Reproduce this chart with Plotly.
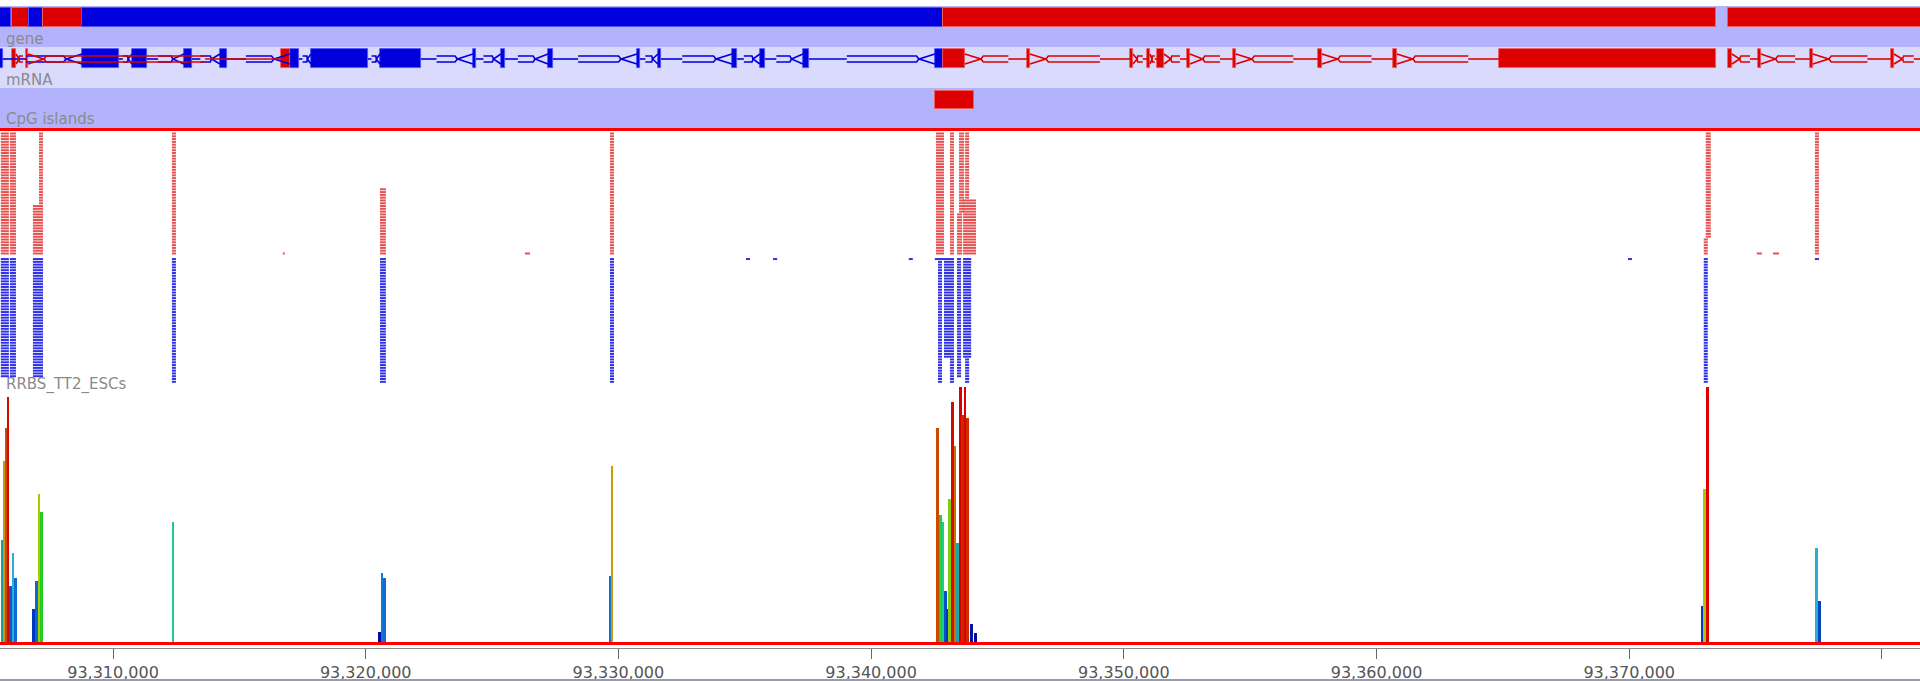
import plotly.graph_objects as go

# ---------------- data ----------------
X_RANGE = [93_305_528, 93_381_508]
TICKS = [93_310_000, 93_320_000, 93_330_000, 93_340_000,
         93_350_000, 93_360_000, 93_370_000, 93_380_000]

# gene track: contiguous gene blocks
gene_start = [93_305_400, 93_306_003, 93_306_676, 93_307_230, 93_308_773, 93_342_843, 93_373_905]
gene_end = [93_305_963, 93_306_676, 93_307_230, 93_308_773, 93_342_843, 93_373_430, 93_381_700]
gene_strand = ['-', '+', '-', '+', '-', '+', '+']

# mRNA track: transcripts as exon lists
tx_minus_exons = [
    (93_305_450, 93_305_635), (93_308_773, 93_310_237), (93_310_751, 93_311_345),
    (93_312_809, 93_313_125), (93_314_233, 93_314_510), (93_317_003, 93_317_359),
    (93_317_834, 93_320_090), (93_320_565, 93_322_187), (93_324_245, 93_324_363),
    (93_325_353, 93_325_511), (93_327_212, 93_327_410), (93_330_734, 93_330_853),
    (93_331_565, 93_331_684), (93_334_493, 93_334_691), (93_335_601, 93_335_799),
    (93_337_303, 93_337_540), (93_342_526, 93_342_843),
]
tx_plus_a_exons = [(93_306_003, 93_306_161), (93_306_557, 93_306_636), (93_316_647, 93_317_003)]
tx_plus_b_exons = [
    (93_342_843, 93_343_713), (93_346_166, 93_346_285), (93_350_242, 93_350_361),
    (93_350_915, 93_351_034), (93_351_310, 93_351_587), (93_352_498, 93_352_616),
    (93_354_318, 93_354_437), (93_357_681, 93_357_840), (93_360_649, 93_360_807),
    (93_364_843, 93_373_430),
]
tx_plus_c_exons = [(93_373_905, 93_374_063), (93_375_092, 93_375_211),
                   (93_377_150, 93_377_268), (93_380_355, 93_380_474), (93_381_600, 93_381_800)]

# CpG islands
cpg_island_start = [93_342_526]
cpg_island_end = [93_344_069]

# RRBS read stacks: (start, end, first_row, last_row)
fwd_read_stacks = [
    (93_305_560, 93_305_880, 0, 43), (93_305_920, 93_306_160, 0, 43),
    (93_307_070, 93_307_230, 0, 25), (93_306_830, 93_307_230, 26, 43),
    (93_312_330, 93_312_490, 0, 43), (93_320_565, 93_320_800, 20, 43),
    (93_316_720, 93_316_800, 43, 43), (93_326_300, 93_326_500, 43, 43),
    (93_329_665, 93_329_825, 0, 43),
    (93_342_565, 93_342_885, 0, 43), (93_343_120, 93_343_280, 0, 43),
    (93_343_480, 93_343_680, 0, 28), (93_343_720, 93_343_880, 0, 23),
    (93_343_640, 93_344_150, 24, 43), (93_343_400, 93_343_600, 29, 43),
    (93_373_030, 93_373_230, 0, 37), (93_372_950, 93_373_110, 38, 43),
    (93_375_050, 93_375_250, 43, 43), (93_375_690, 93_375_930, 43, 43),
    (93_377_350, 93_377_510, 0, 43),
]
rev_read_stacks = [
    (93_305_560, 93_305_880, 0, 42), (93_305_920, 93_306_160, 0, 42),
    (93_306_830, 93_307_230, 0, 42), (93_312_330, 93_312_490, 0, 44),
    (93_320_565, 93_320_800, 0, 44), (93_329_665, 93_329_825, 0, 44),
    (93_335_050, 93_335_210, 0, 0), (93_336_120, 93_336_280, 0, 0),
    (93_341_490, 93_341_650, 0, 0), (93_369_950, 93_370_110, 0, 0),
    (93_342_525, 93_343_280, 0, 0), (93_342_645, 93_342_805, 1, 44),
    (93_342_885, 93_343_280, 1, 35), (93_343_120, 93_343_280, 36, 44),
    (93_343_400, 93_343_560, 0, 42), (93_343_640, 93_343_960, 0, 35),
    (93_343_720, 93_343_880, 36, 44), (93_372_950, 93_373_110, 0, 44),
    (93_377_350, 93_377_510, 0, 0),
]

# RRBS methylation level per CpG site (%)
cpg_pos = [
    93_305_600, 93_305_682, 93_305_761, 93_305_840, 93_305_936, 93_306_035, 93_306_141,
    93_306_854, 93_306_964, 93_307_063, 93_307_170, 93_312_374,
    93_320_545, 93_320_644, 93_320_742, 93_329_666, 93_329_745,
    93_342_625, 93_342_744, 93_342_843, 93_342_942, 93_343_033, 93_343_100, 93_343_211,
    93_343_326, 93_343_429, 93_343_528, 93_343_627, 93_343_722, 93_343_817, 93_343_972,
    93_344_130, 93_372_886, 93_372_985, 93_373_092, 93_377_416, 93_377_523,
]
meth_pct = [
    40, 71, 84, 96, 22, 35, 25,
    13, 24, 58, 51, 47,
    4, 27, 25, 26, 69,
    84, 50, 47, 20, 13, 56, 94,
    77, 39, 100, 89, 100, 88, 7,
    3.5, 14, 60, 100, 37, 16,
]

# ---------------- styling ----------------
W, H = 1920, 681
BLUE, RED = '#0000dd', '#dd0000'
LAV, LAV_LIGHT = '#b3b3fb', '#dadafc'
LABEL = '#8a8a8a'
BP_PER_PX = (X_RANGE[1] - X_RANGE[0]) / W
MRNA_Y = 59


def pf(px):
    """pixel row (from top) -> paper fraction"""
    return 1 - px / H


meth_scale = [
    [0.00, '#00009a'], [0.06, '#0010b0'], [0.13, '#0038c0'], [0.22, '#0a5acc'],
    [0.30, '#1a8ad8'], [0.36, '#2ab8e0'], [0.40, '#1a9e96'], [0.47, '#22cc88'],
    [0.51, '#22cc22'], [0.58, '#a8cc00'], [0.65, '#c4b000'], [0.72, '#d09010'],
    [0.78, '#d06a00'], [0.85, '#cc4400'], [0.92, '#cc1100'], [1.00, '#dd0000'],
]

fig = go.Figure()

# gene blocks
fig.add_trace(go.Bar(
    orientation='h', yaxis='y2', base=gene_start,
    x=[e - s for s, e in zip(gene_start, gene_end)],
    y=[17.8] * len(gene_start), width=19,
    marker=dict(color=[BLUE if s == '-' else RED for s in gene_strand],
                line=dict(color=['#5050ff' if s == '-' else '#ee6060' for s in gene_strand], width=1)),
    hoverinfo='skip'))


def intron_paths(exons, strand):
    """Intron glyph: thin line, hollow shaft, then a wedge pointing with the strand."""
    xs, ys = [], []
    y0 = MRNA_Y
    tube, flare = 3.0, 5.0
    for (s0, e0), (s1, e1) in zip(exons[:-1], exons[1:]):
        a, b = e0, s1
        L = b - a
        w = min(0.3 * L, 16 * BP_PER_PX)
        if strand == '-':
            ap = b - w                     # wedge apex, wedge opens onto the right exon
            t0 = a + 0.3 * L               # shaft start
            xs += [a, t0, None]
            ys += [y0, y0, None]
            for sgn in (-1, 1):
                xs += [t0, ap - 0.15 * w, ap, b, None]
                ys += [y0 + sgn * tube, y0 + sgn * tube, y0, y0 + sgn * flare, None]
        else:
            ap = a + w                     # wedge apex, wedge opens onto the left exon
            t1 = b - 0.3 * L
            xs += [t1, b, None]
            ys += [y0, y0, None]
            for sgn in (-1, 1):
                xs += [a, ap, ap + 0.15 * w, t1, None]
                ys += [y0 + sgn * flare, y0, y0 + sgn * tube, y0 + sgn * tube, None]
    return xs, ys


for exons, strand in [(tx_minus_exons, '-'), (tx_plus_a_exons, '+'),
                      (tx_plus_b_exons, '+'), (tx_plus_c_exons, '+')]:
    col = BLUE if strand == '-' else RED
    ix, iy = intron_paths(exons, strand)
    fig.add_trace(go.Scatter(x=ix, y=iy, yaxis='y2', mode='lines',
                             line=dict(color=col, width=1.6), hoverinfo='skip'))
    fig.add_trace(go.Bar(
        orientation='h', yaxis='y2', base=[s for s, _ in exons],
        x=[e - s for s, e in exons], y=[58.8] * len(exons), width=19,
        marker=dict(color=col, line=dict(color='#5050ff' if strand == '-' else '#ee6060', width=0.8)),
        hoverinfo='skip'))

# CpG islands
fig.add_trace(go.Bar(
    orientation='h', yaxis='y2', base=cpg_island_start,
    x=[e - s for s, e in zip(cpg_island_start, cpg_island_end)],
    y=[100] * len(cpg_island_start), width=18,
    marker=dict(color=RED, line=dict(color='#ee6060', width=1)), hoverinfo='skip'))


def stack_segments(stacks, row_offset):
    xs, ys = [], []
    for s, e, r0, r1 in stacks:
        for r in range(r0, r1 + 1):
            xs += [s, e, None]
            ys += [r + row_offset, r + row_offset, None]
    return xs, ys


fx, fy = stack_segments(fwd_read_stacks, 0)
rx, ry = stack_segments(rev_read_stacks, 45)
fig.add_trace(go.Scatter(x=fx, y=fy, yaxis='y3', mode='lines',
                         line=dict(color='#e65050', width=2), hoverinfo='skip'))
fig.add_trace(go.Scatter(x=rx, y=ry, yaxis='y3', mode='lines',
                         line=dict(color='#3030e6', width=2), hoverinfo='skip'))

# methylation bars
fig.add_trace(go.Bar(
    x=cpg_pos, y=meth_pct, width=100,
    marker=dict(color=meth_pct, colorscale=meth_scale, cmin=0, cmax=100, line=dict(width=0)),
    hoverinfo='skip'))

shapes = [
    dict(type='rect', xref='paper', yref='paper', x0=0, x1=1, y0=pf(47), y1=pf(6),
         fillcolor=LAV, line_width=0, layer='below'),
    dict(type='rect', xref='paper', yref='paper', x0=0, x1=1, y0=pf(88), y1=pf(47),
         fillcolor=LAV_LIGHT, line_width=0, layer='below'),
    dict(type='rect', xref='paper', yref='paper', x0=0, x1=1, y0=pf(128), y1=pf(88),
         fillcolor=LAV, line_width=0, layer='below'),
    dict(type='line', xref='paper', yref='paper', x0=0, x1=1, y0=pf(129.5), y1=pf(129.5),
         line=dict(color='#ff0000', width=3)),
    dict(type='line', xref='paper', yref='paper', x0=0, x1=1, y0=pf(643.5), y1=pf(643.5),
         line=dict(color='#ff0000', width=3)),
    dict(type='line', xref='paper', yref='paper', x0=0, x1=1, y0=pf(680), y1=pf(680),
         line=dict(color='#9a9aaa', width=2)),
]

labels = [('gene', 39), ('mRNA', 80), ('CpG islands', 119), ('RRBS_TT2_ESCs', 385)]
annotations = [dict(text=t, x=0.002, y=pf(py), xref='paper', yref='paper',
                    xanchor='left', yanchor='middle', showarrow=False,
                    font=dict(family='DejaVu Sans', size=15, color=LABEL))
               for t, py in labels]

row_px = 2.79
fig.update_layout(
    width=W, height=H, margin=dict(l=0, r=0, t=0, b=0),
    paper_bgcolor='white', plot_bgcolor='rgba(0,0,0,0)',
    showlegend=False, barmode='overlay', bargap=0,
    xaxis=dict(range=X_RANGE, domain=[0, 1], anchor='free', position=pf(648),
               showgrid=False, zeroline=False, showline=True, linecolor='#8a8a8a', linewidth=1,
               ticks='outside', ticklen=10, tickcolor='#666', tickwidth=1,
               tickvals=TICKS, tickformat=',d',
               tickfont=dict(family='DejaVu Sans', size=16, color='#555')),
    yaxis=dict(domain=[pf(642), pf(387)], range=[0, 100], visible=False, fixedrange=True),
    yaxis2=dict(domain=[pf(131), 1], range=[131, 0], visible=False, anchor='x'),
    yaxis3=dict(domain=[pf(385), pf(131)],
                range=[(385 - 133.5) / row_px, (131 - 133.5) / row_px], visible=False, anchor='x'),
    shapes=shapes, annotations=annotations,
)

fig.write_html('out.html', config={'displayModeBar': False})
